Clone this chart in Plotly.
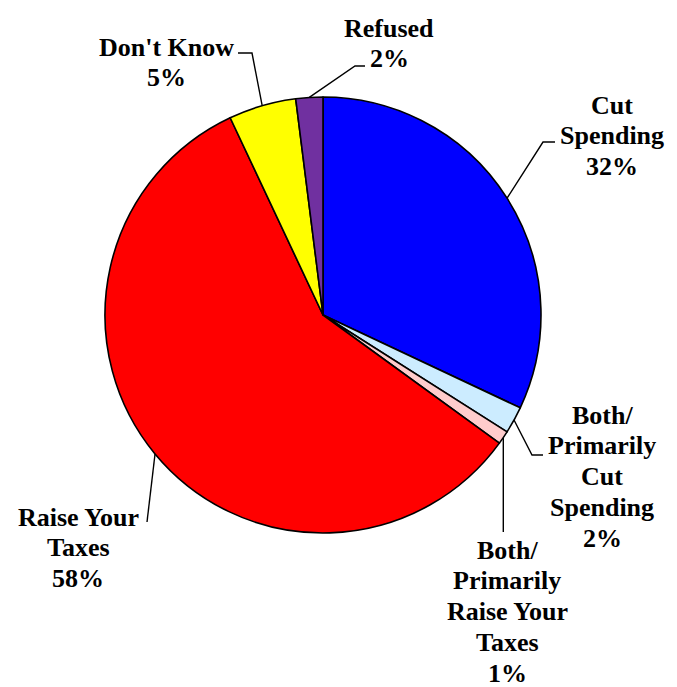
import math
import plotly.graph_objects as go

# ---- data ----
categories = ["Cut Spending", "Both/ Primarily Cut Spending", "Both/ Primarily Raise Your Taxes",
              "Raise Your Taxes", "Don't Know", "Refused"]
values = [32, 2, 1, 58, 5, 2]
label_lines = [
    ["Cut", "Spending", "32%"],
    ["Both/", "Primarily", "Cut", "Spending", "2%"],
    ["Both/", "Primarily", "Raise Your", "Taxes", "1%"],
    ["Raise Your", "Taxes", "58%"],
    ["Don't Know", "5%"],
    ["Refused", "2%"],
]
colors = ["#0000FF", "#CCECFF", "#FFCCCC", "#FF0000", "#FFFF00", "#7030A0"]

# ---- layout constants (pixels) ----
W, H = 677, 687
CX, CY, R = 323, 315, 218
FONT = "Times New Roman, Liberation Serif, serif"
FS = 26
LINE_H = 30.8
# label first-line centre (x, y)
label_pos = [(612, 105), (602, 415), (507, 550), (78, 517), (166, 47), (389, 28)]
# leader elbow points after pie anchor
leader_elbows = [
    [(543, 142), (555, 142)],
    [(532, 455), (543, 455)],
    [(None, 532)],
    [(147, 522)],
    [(252, 53), (238, 53)],
    [(355, 66), (365, 66)],
]

fig = go.Figure()
fig.add_trace(go.Pie(
    labels=categories, values=values, sort=False, direction="clockwise", rotation=0,
    marker=dict(colors=colors, line=dict(color="black", width=1.6)),
    textinfo="none", hoverinfo="label+percent", showlegend=False,
    domain=dict(x=[(CX - R) / W, (CX + R) / W], y=[(H - CY - R) / H, (H - CY + R) / H]),
))

total = sum(values)
cum = 0
annotations = []
for i, v in enumerate(values):
    ang = 2 * math.pi * (cum + v / 2) / total
    cum += v
    ax = CX + R * math.sin(ang)
    ay = CY - R * math.cos(ang)
    xs, ys = [ax], [ay]
    for (ex, ey) in leader_elbows[i]:
        xs.append(ax if ex is None else ex)
        ys.append(ey)
    fig.add_trace(go.Scatter(x=xs, y=ys, mode="lines", line=dict(color="black", width=1.4),
                             hoverinfo="skip", showlegend=False, xaxis="x", yaxis="y"))
    lx, ly = label_pos[i]
    for j, t in enumerate(label_lines[i]):
        annotations.append(dict(x=lx, y=ly + j * LINE_H, xref="x", yref="y", text="<b>%s</b>" % t,
                                showarrow=False, xanchor="center", yanchor="middle",
                                font=dict(family=FONT, size=FS, color="black")))

fig.update_layout(
    width=W, height=H, margin=dict(l=0, r=0, t=0, b=0),
    paper_bgcolor="white", plot_bgcolor="rgba(0,0,0,0)",
    font=dict(family=FONT),
    xaxis=dict(range=[0, W], visible=False, domain=[0, 1], fixedrange=True),
    yaxis=dict(range=[H, 0], visible=False, domain=[0, 1], fixedrange=True),
    annotations=annotations,
)
fig.write_html("out.html", config={"displayModeBar": False},
               post_script="document.body.style.margin='0';document.body.style.overflow='hidden';")
